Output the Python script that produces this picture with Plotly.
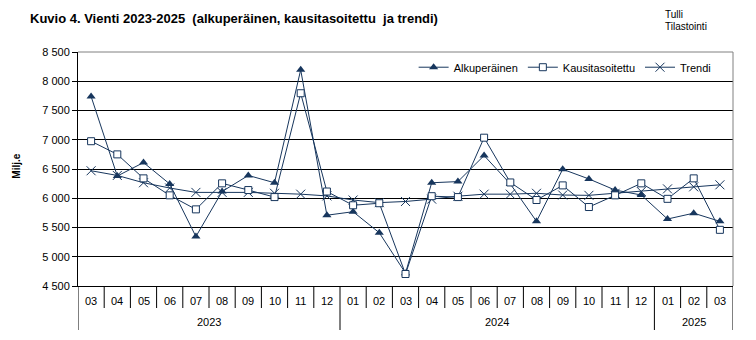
import plotly.graph_objects as go

# Monthly exports, million euros, 2023-03 .. 2025-03
months = ["03", "04", "05", "06", "07", "08", "09", "10", "11", "12",
          "01", "02", "03", "04", "05", "06", "07", "08", "09", "10", "11", "12",
          "01", "02", "03"]
years = ["2023"] * 10 + ["2024"] * 12 + ["2025"] * 3

alkuperainen = [7740, 6380, 6610, 6245, 5345, 6115, 6390, 6265, 8195, 5710,
                5770, 5410, 4720, 6265, 6285, 6730, 6245, 5605, 6495, 6330, 6140, 6055,
                5645, 5745, 5605]
kausitasoitettu = [6975, 6750, 6340, 6050, 5810, 6255, 6140, 6020, 7795, 6115,
                   5880, 5915, 4705, 6035, 6020, 7035, 6270, 5970, 6220, 5850, 6050, 6255,
                   5990, 6340, 5460]
trendi = [6470, 6390, 6265, 6175, 6100, 6100, 6100, 6085, 6070, 6040,
          5970, 5925, 5945, 5985, 6035, 6070, 6070, 6085, 6055, 6050, 6085, 6115,
          6160, 6195, 6230]

y_ticks = [4500, 5000, 5500, 6000, 6500, 7000, 7500, 8000, 8500]

NAVY = "#17365D"
FONT = "Liberation Sans, Arial, sans-serif"

x = list(range(len(months)))

fig = go.Figure()
fig.add_trace(go.Scatter(
    x=x, y=trendi, name="Trendi", mode="lines+markers",
    line=dict(color=NAVY, width=1),
    marker=dict(symbol="x-thin", size=9, line=dict(color=NAVY, width=1), color=NAVY),
))
fig.add_trace(go.Scatter(
    x=x, y=alkuperainen, name="Alkuperäinen", mode="lines+markers",
    line=dict(color=NAVY, width=1),
    marker=dict(symbol="triangle-up", size=8, color=NAVY, line=dict(width=0)),
))
fig.add_trace(go.Scatter(
    x=x, y=kausitasoitettu, name="Kausitasoitettu", mode="lines+markers",
    line=dict(color=NAVY, width=1),
    marker=dict(symbol="square", size=7, color="white", line=dict(color=NAVY, width=1)),
))

# plot-area height in px, used to convert offsets below the axis
PH = 234.0
shapes = []
annotations = []

# month separators and labels under the axis
for k in range(len(months) + 1):
    is_year_edge = k == 0 or k == len(months) or years[k] != years[k - 1]
    shapes.append(dict(type="line", xref="x", yref="paper",
                       x0=k - 0.5, x1=k - 0.5, y0=0, y1=-(44 if is_year_edge else 22) / PH,
                       line=dict(color="black", width=1)))
for i, m in enumerate(months):
    annotations.append(dict(xref="x", yref="paper", x=i, y=-15 / PH, text=m,
                            showarrow=False, yanchor="middle",
                            font=dict(size=11, color="black", family=FONT)))

# year labels centred under each group of months
for yr in dict.fromkeys(years):
    idx = [i for i, v in enumerate(years) if v == yr]
    annotations.append(dict(xref="x", yref="paper", x=sum(idx) / len(idx), y=-36 / PH,
                            text=yr, showarrow=False, yanchor="middle",
                            font=dict(size=11, color="black", family=FONT)))

# grey frame on the top and right of the plot area
shapes.append(dict(type="line", xref="paper", yref="paper", x0=0, x1=1, y0=1, y1=1,
                   line=dict(color="#808080", width=1)))
shapes.append(dict(type="line", xref="paper", yref="paper", x0=1, x1=1, y0=0, y1=1,
                   line=dict(color="#808080", width=1)))

# y-axis caption
annotations.append(dict(xref="paper", yref="paper", x=-61 / 655, y=0.51, text="<b>Milj.e</b>",
                        textangle=-90, showarrow=False, xanchor="center", yanchor="middle",
                        font=dict(size=10, color="black", family=FONT)))

# source lines in the top right corner
annotations.append(dict(xref="paper", yref="paper", x=585 / 655, y=(234 + 37) / PH,
                        text="Tulli", showarrow=False, xanchor="left", yanchor="middle",
                        font=dict(size=10, color="black", family=FONT)))
annotations.append(dict(xref="paper", yref="paper", x=585 / 655, y=(234 + 25) / PH,
                        text="Tilastointi", showarrow=False, xanchor="left", yanchor="middle",
                        font=dict(size=10, color="black", family=FONT)))

fig.update_layout(
    width=756, height=340,
    margin=dict(l=78, r=23, t=52, b=54),
    paper_bgcolor="white", plot_bgcolor="white",
    separators=", ",
    font=dict(family=FONT, size=11, color="black"),
    title=dict(text="<b>Kuvio 4. Vienti 2023-2025  (alkuperäinen, kausitasoitettu  ja trendi)</b>",
               x=30 / 756, xanchor="left", y=1 - 18 / 340, yanchor="middle",
               font=dict(size=13, color="black", family=FONT)),
    showlegend=True,
    legend=dict(orientation="h", x=0.975, xanchor="right", y=0.935, yanchor="middle",
                bgcolor="rgba(0,0,0,0)", font=dict(size=11, color="black", family=FONT),
                traceorder="normal", itemclick=False, itemdoubleclick=False,
                entrywidth=0, tracegroupgap=0),
    xaxis=dict(range=[-0.5, len(months) - 0.5], showgrid=False, zeroline=False,
               showticklabels=False, ticks="", showline=True, linecolor="black", linewidth=1),
    yaxis=dict(range=[y_ticks[0], y_ticks[-1]], tickvals=y_ticks, tickformat=",d",
               showgrid=True, gridcolor="black", gridwidth=1, zeroline=False,
               showline=True, linecolor="black", linewidth=1,
               ticks="outside", ticklen=5, tickcolor="black",
               tickfont=dict(size=11, color="black", family=FONT)),
    shapes=shapes,
    annotations=annotations,
    hovermode=False,
)

# legend order: Alkuperäinen, Kausitasoitettu, Trendi
fig.data[1].legendrank = 1
fig.data[2].legendrank = 2
fig.data[0].legendrank = 3

fig.write_html("out.html")
